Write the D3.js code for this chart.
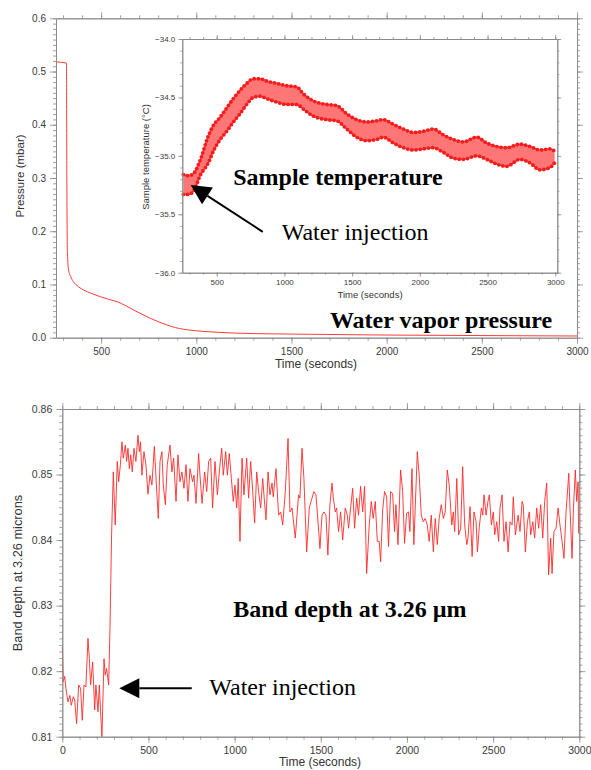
<!DOCTYPE html>
<html lang="en">
<head>
<meta charset="UTF-8">
<title>Water injection: pressure, sample temperature and band depth</title>
<script src="https://d3js.org/d3.v7.min.js"></script>
<style>
    body { margin: 0; background: #fff; }
    svg text { font-family: "Liberation Sans", Arial, sans-serif; }
    .axis .domain, .axis line { stroke: #8a8a8a; }
    .axis text { fill: #3a3a3a; }
    .note { font-family: "Liberation Serif", "Times New Roman", serif !important; fill: #000; }
</style>
</head>
<body>
<script>
// ---- top panel: water vapor pressure (mbar) vs time (s)
const pressureTime = [263, 318, 320, 323, 329, 340, 355, 380, 408, 450, 496, 540, 584, 630, 671, 715,
    759, 800, 846, 890, 934, 1000, 1056, 1150, 1231, 1400, 1600, 2000, 2500, 3000];
const pressureValue = [0.518, 0.516, 0.30, 0.16, 0.127, 0.115, 0.105, 0.096, 0.0896, 0.083, 0.077, 0.072,
    0.0677, 0.060, 0.052, 0.044, 0.0364, 0.030, 0.0239, 0.019, 0.0158, 0.0130, 0.0113, 0.0095, 0.0083,
    0.0072, 0.0064, 0.0050, 0.0040, 0.0032];

// ---- inset: sample temperature band (upper / lower envelope, deg C)
const tempTime = [254, 290, 330, 377, 438, 475, 525, 574, 623, 672, 721, 771, 820, 869, 943, 1017, 1091,
    1140, 1214, 1312, 1386, 1460, 1533, 1607, 1681, 1730, 1804, 1878, 1952, 2026, 2099, 2173, 2247, 2321,
    2420, 2493, 2567, 2641, 2739, 2813, 2887, 2961, 2995];
const tempUpper = [-35.16, -35.17, -35.15, -35.04, -34.83, -34.74, -34.67, -34.59, -34.51, -34.44, -34.38,
    -34.34, -34.34, -34.36, -34.38, -34.40, -34.41, -34.47, -34.53, -34.56, -34.57, -34.64, -34.69, -34.71,
    -34.70, -34.69, -34.73, -34.77, -34.80, -34.79, -34.77, -34.82, -34.86, -34.88, -34.84, -34.89, -34.92,
    -34.93, -34.90, -34.92, -34.95, -34.94, -34.96];
const tempLower = [-35.33, -35.33, -35.30, -35.17, -35.06, -34.96, -34.86, -34.79, -34.71, -34.64, -34.56,
    -34.50, -34.49, -34.51, -34.54, -34.56, -34.56, -34.60, -34.66, -34.69, -34.70, -34.77, -34.84, -34.87,
    -34.86, -34.84, -34.89, -34.93, -34.95, -34.94, -34.93, -34.97, -35.02, -35.03, -35.00, -35.03, -35.07,
    -35.09, -35.03, -35.06, -35.12, -35.10, -35.06];

// ---- bottom panel: band depth at 3.26 microns vs time (s)
const bandTime = [0, 6, 14, 21, 33, 44, 52, 64, 72, 83, 95, 106, 116, 126, 137, 149, 157, 164, 176, 188, 195,
    207, 215, 222, 230, 242, 249, 257, 269, 277, 286, 296, 307, 319, 327, 337, 346, 354, 366, 373, 381, 389,
    397, 406, 416, 427, 439, 447, 454, 462, 474, 485, 497, 509, 520, 534, 543, 557, 567, 578, 586, 598, 609,
    625, 636, 646, 660, 671, 683, 694, 706, 718, 729, 741,
    756, 764, 776, 791, 799, 811, 826, 838, 849, 861, 872, 886, 900, 911, 925, 934, 948, 958, 969, 981, 992,
    1002, 1012, 1021, 1031, 1043, 1054, 1070, 1081, 1093, 1105, 1116, 1128, 1139, 1151, 1163, 1170, 1182,
    1194, 1205, 1217, 1224, 1240, 1255, 1267, 1279, 1294, 1310, 1321, 1333, 1352, 1371, 1379, 1391, 1402,
    1418, 1433, 1449, 1460, 1472, 1488,
    1495, 1507, 1518, 1530, 1541, 1553, 1565, 1572, 1584, 1592, 1603, 1615, 1627, 1642, 1654, 1661, 1673,
    1685, 1696, 1708, 1719, 1731, 1743, 1754, 1766, 1781, 1793, 1804, 1816, 1828, 1839, 1847, 1859, 1870,
    1882, 1893, 1905, 1917, 1928, 1936, 1948, 1963, 1975, 1986, 1998, 2009, 2017, 2029, 2040, 2060, 2071,
    2083, 2094, 2106, 2118, 2129, 2141, 2153, 2164, 2176, 2187, 2199, 2211, 2222, 2234, 2245,
    2260, 2269, 2277, 2289, 2300, 2312, 2323, 2335, 2347, 2354, 2366, 2378, 2389, 2401, 2409, 2420, 2432,
    2440, 2447, 2459, 2470, 2478, 2490, 2501, 2509, 2521, 2532, 2540, 2552, 2563, 2575, 2587, 2598, 2610,
    2617, 2629, 2645, 2656, 2668, 2675, 2687, 2699, 2710, 2718, 2730, 2741, 2753, 2764, 2776, 2788, 2799,
    2811, 2822, 2834, 2842, 2853, 2865, 2877, 2888, 2900, 2911, 2923, 2939, 2946, 2958, 2966, 2977, 2985,
    2993, 2996];
const bandDepth = [0.8237, 0.8184, 0.8192, 0.8174, 0.8153, 0.8163, 0.8148, 0.8161, 0.8156, 0.8120, 0.8179,
    0.8174, 0.8125, 0.8179, 0.8176, 0.8250, 0.8219, 0.8179, 0.8214, 0.8141, 0.8179, 0.8138, 0.8179, 0.8138,
    0.8100, 0.8219, 0.8194, 0.8204, 0.8179, 0.8270, 0.8408, 0.8504, 0.8423, 0.8520, 0.8489, 0.8515, 0.8550,
    0.8525, 0.8545, 0.8520, 0.8540, 0.8509, 0.8530, 0.8504, 0.8540, 0.8520, 0.8560, 0.8535, 0.8550, 0.8499,
    0.8535, 0.8515, 0.8470, 0.8499, 0.8484, 0.8543, 0.8499, 0.8433, 0.8520, 0.8535, 0.8484, 0.8454, 0.8515,
    0.8545, 0.8504, 0.8525, 0.8459, 0.8530, 0.8489, 0.8504, 0.8479, 0.8515, 0.8459, 0.8509,
    0.8489, 0.8499, 0.8456, 0.8532, 0.8499, 0.8456, 0.8504, 0.8474, 0.8520, 0.8525, 0.8449, 0.8520, 0.8469,
    0.8504, 0.8540, 0.8499, 0.8535, 0.8499, 0.8532, 0.8494, 0.8459, 0.8484, 0.8449, 0.8494, 0.8398, 0.8525,
    0.8469, 0.8525, 0.8464, 0.8520, 0.8474, 0.8426, 0.8504, 0.8474, 0.8449, 0.8494, 0.8469, 0.8431, 0.8504,
    0.8469, 0.8487, 0.8466, 0.8509, 0.8438, 0.8443, 0.8423, 0.8474, 0.8555, 0.8443, 0.8449, 0.8403, 0.8469,
    0.8464, 0.8540, 0.8494, 0.8382, 0.8449, 0.8464, 0.8474, 0.8469, 0.8413,
    0.8387, 0.8438, 0.8443, 0.8438, 0.8377, 0.8454, 0.8487, 0.8466, 0.8443, 0.8449, 0.8413, 0.8443, 0.8400,
    0.8449, 0.8438, 0.8418, 0.8449, 0.8479, 0.8418, 0.8464, 0.8438, 0.8482, 0.8443, 0.8482, 0.8349, 0.8423,
    0.8459, 0.8433, 0.8459, 0.8398, 0.8398, 0.8367, 0.8446, 0.8474, 0.8466, 0.8390, 0.8474, 0.8471, 0.8413,
    0.8454, 0.8393, 0.8507, 0.8474, 0.8395, 0.8441, 0.8443, 0.8413, 0.8509, 0.8393, 0.8535, 0.8499, 0.8438,
    0.8428, 0.8433, 0.8423, 0.8398, 0.8438, 0.8382, 0.8433, 0.8393, 0.8433, 0.8454, 0.8433, 0.8443, 0.8507,
    0.8484,
    0.8423, 0.8443, 0.8413, 0.8494, 0.8408, 0.8418, 0.8512, 0.8423, 0.8393, 0.8403, 0.8451, 0.8375, 0.8443,
    0.8428, 0.8382, 0.8421, 0.8449, 0.8438, 0.8469, 0.8438, 0.8459, 0.8469, 0.8423, 0.8443, 0.8408, 0.8428,
    0.8398, 0.8449, 0.8469, 0.8398, 0.8428, 0.8382, 0.8428, 0.8423, 0.8466, 0.8408, 0.8438, 0.8413, 0.8459,
    0.8454, 0.8382, 0.8428, 0.8443, 0.8408, 0.8428, 0.8403, 0.8449, 0.8418, 0.8454, 0.8403, 0.8459, 0.8487,
    0.8347, 0.8403, 0.8349, 0.8413, 0.8418, 0.8449, 0.8423, 0.8398, 0.8372, 0.8443, 0.8502, 0.8449, 0.8372,
    0.8449, 0.8507, 0.8459, 0.8489, 0.8410];

// tick label values
const pressureXTicks = [500, 1000, 1500, 2000, 2500, 3000];
const pressureYTicks = [0.0, 0.1, 0.2, 0.3, 0.4, 0.5, 0.6];
const tempXTicks = [500, 1000, 1500, 2000, 2500, 3000];
const tempYTicks = [-36.0, -35.5, -35.0, -34.5, -34.0];
const bandXTicks = [0, 500, 1000, 1500, 2000, 2500, 3000];
const bandYTicks = [0.81, 0.82, 0.83, 0.84, 0.85, 0.86];

const svg = d3.select("body").append("svg").attr("width", 591).attr("height", 770);

const px = d3.scaleLinear().domain([263, 3000]).range([56, 577]);
const py = d3.scaleLinear().domain([0, 0.6]).range([337.7, 18.3]);
const ix = d3.scaleLinear().domain([246, 3015]).range([182.3, 557.3]);
const iy = d3.scaleLinear().domain([-36, -34]).range([272.7, 39]);
const bx = d3.scaleLinear().domain([0, 3000]).range([62.3, 579.3]);
const by = d3.scaleLinear().domain([0.81, 0.86]).range([736.7, 409]);

// box with outward ticks on all four sides, labels on bottom and left only
function drawFrame(x, y, o) {
    const [xa, xb] = x.range();
    const [ya, yb] = y.range();
    const g = svg.append("g").attr("class", "axis");
    const sides = [
        [d3.axisBottom(x), `translate(0,${ya})`, o.xMajor, o.xMinor, o.xFmt],
        [d3.axisTop(x), `translate(0,${yb})`, o.xMajor, o.xMinor, null],
        [d3.axisLeft(y), `translate(${xa},0)`, o.yMajor, o.yMinor, o.yFmt],
        [d3.axisRight(y), `translate(${xb},0)`, o.yMajor, o.yMinor, null]
    ];
    sides.forEach(([axis, tr, major, minor, fmt]) => {
        g.append("g").attr("transform", tr)
            .call(axis.tickValues(minor).tickSize(o.minorLen).tickSizeOuter(0).tickFormat(""));
        const a = g.append("g").attr("transform", tr)
            .call(axis.tickValues(major).tickSize(o.majorLen).tickSizeOuter(0)
                .tickPadding(o.pad).tickFormat(fmt || ""));
        a.selectAll("text").style("font-size", o.fontSize + "px");
    });
    g.selectAll("line").attr("stroke-width", 0.8);
    g.selectAll(".domain").attr("stroke-width", 0.9);
}

function drawArrow(x1, y1, x2, y2) {
    const ang = Math.atan2(y2 - y1, x2 - x1);
    const len = 20, half = 10;
    const bxp = x2 - len * Math.cos(ang), byp = y2 - len * Math.sin(ang);
    svg.append("line").attr("x1", x1).attr("y1", y1).attr("x2", bxp).attr("y2", byp)
        .attr("stroke", "#000").attr("stroke-width", 2);
    const nx = -Math.sin(ang) * half, ny = Math.cos(ang) * half;
    svg.append("polygon")
        .attr("points", [[x2, y2], [bxp + nx, byp + ny], [bxp - nx, byp - ny]].map(p => p.join(",")).join(" "))
        .attr("fill", "#000");
}

function note(x, y, txt, size, bold) {
    svg.append("text").attr("class", "note").attr("x", x).attr("y", y)
        .style("font-size", size + "px").style("font-weight", bold ? "bold" : "normal").text(txt);
}

function axisTitle(x, y, txt, size, rotate) {
    svg.append("text")
        .attr("transform", rotate ? `translate(${x},${y}) rotate(-90)` : `translate(${x},${y})`)
        .attr("text-anchor", "middle").style("font-size", size + "px").attr("fill", "#333").text(txt);
}

// ---------------- top panel
function drawPressure() {
    const line = d3.line().x((d, i) => px(pressureTime[i])).y(d => py(d)).curve(d3.curveMonotoneX);
    svg.append("path").datum(pressureValue).attr("fill", "none")
        .attr("stroke", "#ff3a3a").attr("stroke-width", 1).attr("d", line);
    drawFrame(px, py, {
        xMajor: pressureXTicks, xMinor: d3.range(300, 3001, 100), xFmt: d3.format("d"),
        yMajor: pressureYTicks, yMinor: d3.range(0, 61).map(i => i / 100), yFmt: d3.format(".1f"),
        majorLen: 6, minorLen: 3, pad: 4, fontSize: 10
    });
    axisTitle(316, 368, "Time (seconds)", 12, false);
    axisTitle(24, 176, "Pressure (mbar)", 11.5, true);
    note(px(1702), py(0.0182), "Water vapor pressure", 24, true);
}

// ---------------- inset
function drawInset() {
    svg.append("rect").attr("x", ix.range()[0]).attr("y", iy.range()[1])
        .attr("width", ix.range()[1] - ix.range()[0]).attr("height", iy.range()[0] - iy.range()[1])
        .attr("fill", "#fff");
    const area = d3.area().x((d, i) => ix(tempTime[i]))
        .y0((d, i) => iy(tempLower[i])).y1(d => iy(d)).curve(d3.curveMonotoneX);
    svg.append("path").datum(tempUpper).attr("fill", "#ff7676").attr("d", area);

    [tempUpper, tempLower].forEach(arr => {
        const edge = d3.line().x((d, i) => ix(tempTime[i])).y(d => iy(d)).curve(d3.curveMonotoneX);
        const p = svg.append("path").datum(arr).attr("fill", "none")
            .attr("stroke", "#ff4a4a").attr("stroke-width", 1.6).attr("d", edge);
        const node = p.node(), total = node.getTotalLength();
        const pts = d3.range(0, total, 4.2).map(l => node.getPointAtLength(l));
        svg.append("g").selectAll("circle").data(pts).join("circle")
            .attr("cx", d => d.x).attr("cy", d => d.y).attr("r", 1.9).attr("fill", "#f41c1c");
    });

    drawFrame(ix, iy, {
        xMajor: tempXTicks, xMinor: d3.range(300, 3001, 100), xFmt: d3.format("d"),
        yMajor: tempYTicks, yMinor: d3.range(0, 21).map(i => -36 + i / 10), yFmt: d3.format(".1f"),
        majorLen: 4, minorLen: 2, pad: 3, fontSize: 8
    });
    axisTitle(370, 298, "Time (seconds)", 9.5, false);
    axisTitle(149, 157, "Sample temperature (\u00B0C)", 9.5, true);

    note(ix(622), iy(-35.25), "Sample temperature", 24, true);
    note(ix(980), iy(-35.72), "Water injection", 24, false);
    drawArrow(ix(840), iy(-35.65), ix(308), iy(-35.25));
}

// ---------------- bottom panel
function drawBand() {
    const line = d3.line().x((d, i) => bx(bandTime[i])).y(d => by(d));
    svg.append("path").datum(bandDepth).attr("fill", "none")
        .attr("stroke", "#ff2a2a").attr("stroke-width", 0.9).attr("d", line);
    drawFrame(bx, by, {
        xMajor: bandXTicks, xMinor: d3.range(0, 3001, 100), xFmt: d3.format("d"),
        yMajor: bandYTicks, yMinor: d3.range(0, 51).map(i => 0.81 + i / 1000), yFmt: d3.format(".2f"),
        majorLen: 6, minorLen: 3, pad: 4, fontSize: 10.5
    });
    axisTitle(320, 766, "Time (seconds)", 12, false);
    axisTitle(22, 573, "Band depth at 3.26 microns", 12.8, true);

    note(bx(992), by(0.8283), "Band depth at 3.26 \u00B5m", 24, true);
    note(bx(853), by(0.8164), "Water injection", 24, false);
    drawArrow(bx(751), by(0.8174), bx(331), by(0.8174));
}

drawPressure();
drawInset();
drawBand();
</script>
</body>
</html>
